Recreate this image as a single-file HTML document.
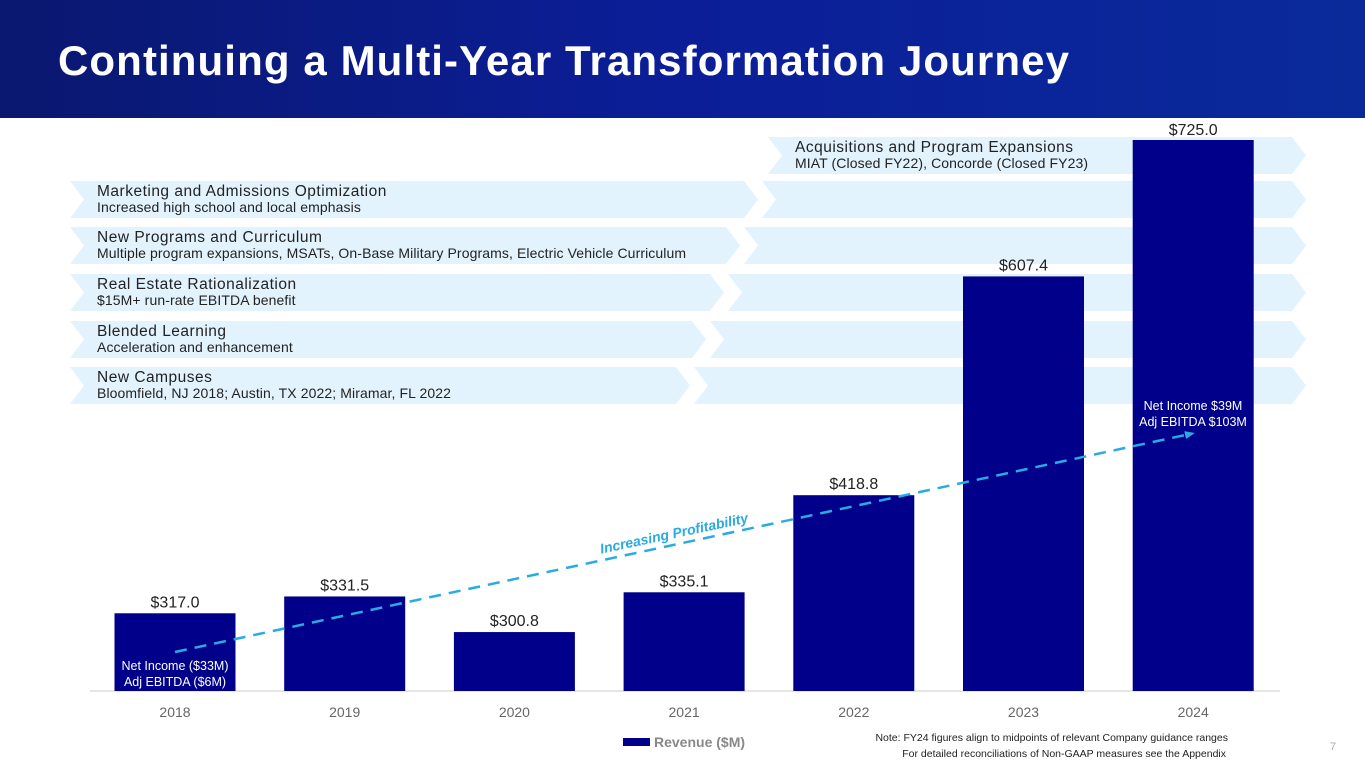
<!DOCTYPE html>
<html><head><meta charset="utf-8"><style>
body{margin:0;width:1365px;height:768px;overflow:hidden;background:#fff;font-family:"Liberation Sans",sans-serif}
</style></head><body>
<svg width="1365" height="768" viewBox="0 0 1365 768">
<defs>
<linearGradient id="hdr" x1="0" y1="0" x2="1" y2="0">
<stop offset="0" stop-color="#0a1870"/><stop offset="0.5" stop-color="#0b1e98"/><stop offset="1" stop-color="#0a2a9a"/>
</linearGradient>
<marker id="ah" markerUnits="userSpaceOnUse" markerWidth="10" markerHeight="10" refX="5" refY="5" orient="auto"><path d="M0,1 L10,5 L0,9 Z" fill="#29abe2"/></marker>
</defs>
<rect x="0" y="0" width="1365" height="118" fill="url(#hdr)"/>
<text x="58" y="75" font-size="42" font-weight="bold" letter-spacing="1.1" fill="#fff" font-family="Liberation Sans, sans-serif">Continuing a Multi-Year Transformation Journey</text>
<g id="bands"></g>
<line x1="90" y1="691" x2="1280" y2="691" stroke="#ddd" stroke-width="1.5"/>
<g id="bars"></g>
<line x1="175" y1="652" x2="1190" y2="434" stroke="#29abe2" stroke-width="2.5" stroke-dasharray="12,8" marker-end="url(#ah)"/>
<text x="675" y="538" transform="rotate(-12 675 538)" text-anchor="middle" font-size="14" font-weight="bold" font-style="italic" fill="#29abe2">Increasing Profitability</text>
<text x="175" y="670" text-anchor="middle" font-size="12.5" fill="#fff">Net Income ($33M)</text>
<text x="175" y="686" text-anchor="middle" font-size="12.5" fill="#fff">Adj EBITDA ($6M)</text>
<text x="1193" y="410" text-anchor="middle" font-size="12.5" fill="#fff">Net Income $39M</text>
<text x="1193" y="426" text-anchor="middle" font-size="12.5" fill="#fff">Adj EBITDA $103M</text>
<rect x="623" y="738" width="27" height="8" fill="#00008b"/>
<text x="654" y="747" font-size="14" font-weight="bold" fill="#888">Revenue ($M)</text>
<text x="1228" y="741" text-anchor="end" font-size="10.5" fill="#222">Note: FY24 figures align to midpoints of relevant Company guidance ranges</text>
<text x="1226" y="757" text-anchor="end" font-size="10.5" fill="#222">For detailed reconciliations of Non-GAAP measures see the Appendix</text>
<text x="1330" y="750" font-size="11" fill="#aaa">7</text>
</svg>
<script>
const years=["2018","2019","2020","2021","2022","2023","2024"];
const revenue=[317.0,331.5,300.8,335.1,418.8,607.4,725.0];
const valueLabels=["$317.0","$331.5","$300.8","$335.1","$418.8","$607.4","$725.0"];
const bandTitles=["Acquisitions and Program Expansions","Marketing and Admissions Optimization","New Programs and Curriculum","Real Estate Rationalization","Blended Learning","New Campuses"];
const bandSubs=["MIAT (Closed FY22), Concorde (Closed FY23)","Increased high school and local emphasis","Multiple program expansions, MSATs, On-Base Military Programs, Electric Vehicle Curriculum","$15M+ run-rate EBITDA benefit","Acceleration and enhancement","Bloomfield, NJ 2018; Austin, TX 2022; Miramar, FL 2022"];
const NS="http://www.w3.org/2000/svg";
function mk(t,a,p){const e=document.createElementNS(NS,t);for(const k in a)e.setAttribute(k,a[k]);p.appendChild(e);return e;}
const xC=i=>175+i*169.7;
const base=691,v0=250,k=1.16;
const yV=v=>base-(v-v0)*k;
const bandG=document.getElementById('bands');
const rowsY=[137,181,227,274,321,367];
const splits=[768,762,744,728,710,694];
const H=37,D=14,R=1292;
rowsY.forEach((y,i)=>{
  const s=splits[i];
  if(i>0){
    const p=mk('polygon',{points:`70,${y} ${s-D-4},${y} ${s-4},${y+H/2} ${s-D-4},${y+H} 70,${y+H} ${70+D},${y+H/2}`,fill:'#e2f3fd'},bandG);
    
    
  }
  const q=mk('polygon',{points:`${s},${y} ${R},${y} ${R+D},${y+H/2} ${R},${y+H} ${s},${y+H} ${s+D},${y+H/2}`,fill:'#e2f3fd'},bandG);
  
  
  const tx=i==0?795:97;
  const t1=mk('text',{x:tx,y:y+15,'font-size':15.5,fill:'#222','letter-spacing':'0.5'},bandG);
  t1.textContent=bandTitles[i];
  
  
  const t2=mk('text',{x:tx,y:y+31,'font-size':14,'letter-spacing':'0.1',fill:'#222'},bandG);
  t2.textContent=bandSubs[i];
  
  
});
const barG=document.getElementById('bars');
years.forEach((yr,i)=>{
  const top=yV(revenue[i]);
  const b=mk('rect',{x:xC(i)-60.5,y:top,width:121,height:base-top,fill:'#00008b'},barG);
  
  
  const l=mk('text',{x:xC(i),y:Math.max(top-6,135),'text-anchor':'middle','font-size':16,fill:'#222'},barG);
  l.textContent=valueLabels[i];
  
  
  const xl=mk('text',{x:xC(i),y:717,'text-anchor':'middle','font-size':14,fill:'#666'},barG);
  xl.textContent=yr;
  
  
});
</script>
</body></html>
